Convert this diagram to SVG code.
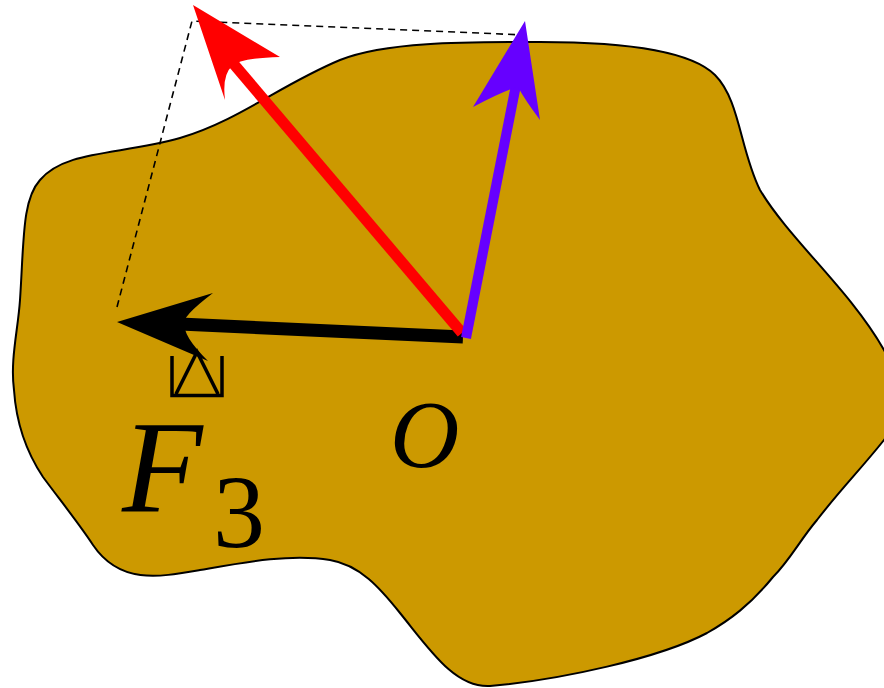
<svg xmlns="http://www.w3.org/2000/svg" width="884" height="688" viewBox="0 0 884 688">
<style>
.lbl{font-family:"Liberation Serif","DejaVu Serif",serif;fill:#000}
.dash{fill:none;stroke:#000;stroke-width:1.6;stroke-dasharray:7,5}
</style>
<rect width="884" height="688" fill="#fff"/>
<g id="body">
<path d="M14,390 C10,360 18,330 20,300 C24,240 22,200 40,180 C65,150 120,155 180,138 C240,120 280,85 340,60 C385,42 460,42 540,42 C620,42 690,50 715,75 C740,100 740,150 760,190 C790,240 850,290 884,350 C900,380 900,425 884,440 C860,470 840,490 817,520 C800,540 790,560 773,577 C750,605 730,620 707,633 C660,658 560,680 490,686 C455,688 430,650 400,613 C380,588 360,565 330,560 C290,553 240,563 200,570 C160,577 120,585 93,545 C80,525 60,500 43,477 C25,450 16,420 14,390 Z" fill="#CC9900" stroke="#000" stroke-width="2"/>
</g>
<g id="connectors">
<polyline class="dash" points="117,307 192,21 525,35"/>
<g id="force3">
<line x1="463" y1="337" x2="180" y2="324" stroke="#000" stroke-width="13"/>
<path d="M117,322 L213,293 Q180,318 185,324 Q182,335 208,361 Z" fill="#000"/>
</g>
<g id="red">
<line x1="462" y1="333" x2="232" y2="62" stroke="#f00" stroke-width="11"/>
<path d="M193,5 L280,57 Q240,58 232,66 Q222,75 225,100 Z" fill="#f00"/>
</g>
<g id="purple">
<line x1="466" y1="338" x2="517" y2="80" stroke="#6600ff" stroke-width="10"/>
<path d="M525,21 L540,120 Q525,100 518,87 Q505,90 473,107 Z" fill="#6600ff"/>
</g>
</g>
<g id="label-F3">
<path d="M172,356 V395.5 H222 V356 M176,394 L197,352 L218,394" fill="none" stroke="#000" stroke-width="3.5"/>
<text class="lbl" x="122" y="512" font-size="132" font-style="italic">F</text>
<text class="lbl" x="213" y="547" font-size="104">3</text>
</g>
<g id="label-O">
<text class="lbl" x="390" y="467" font-size="96" font-style="italic">O</text>
</g>
</svg>
